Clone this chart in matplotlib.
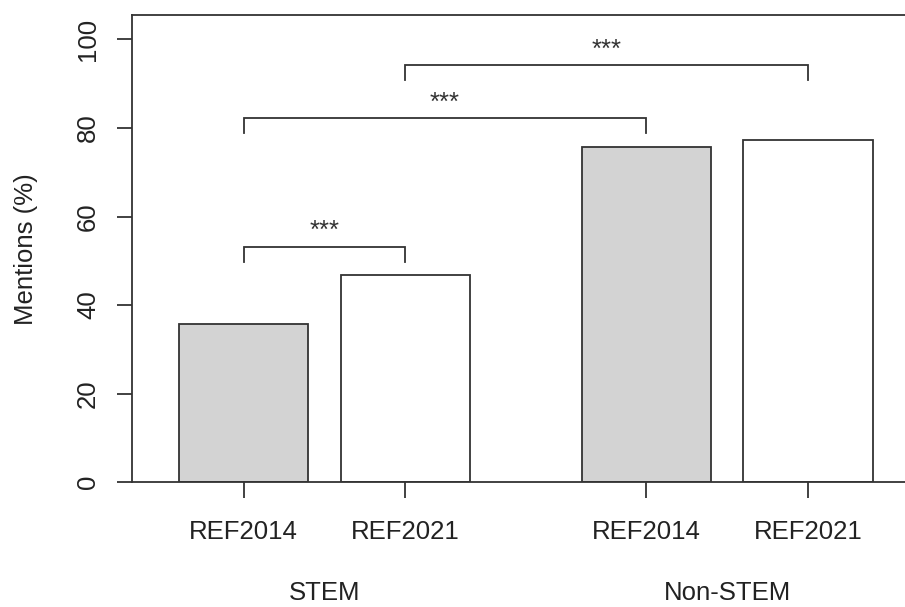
import matplotlib
matplotlib.use('Agg')
import matplotlib.pyplot as plt

plt.rcParams['font.family'] = ['Liberation Sans', 'DejaVu Sans']
plt.rcParams['font.size'] = 18.5

# data
groups = ['STEM', 'Non-STEM']
cycles = ['REF2014', 'REF2021', 'REF2014', 'REF2021']
mentions = [35.7, 46.8, 75.6, 77.3]
bar_colours = ['#d3d3d3', 'white', '#d3d3d3', 'white']

# significance brackets: (left bar, right bar, bracket height, label)
brackets = [
    (0, 1, 53.2, '***'),
    (0, 2, 82.2, '***'),
    (1, 3, 94.2, '***'),
]

pos = [0, 1.25, 3.11, 4.36]
W = 1.0
leg = 3.4      # bracket leg length (%)
lw = 1.3
line_col = '#333333'

fig = plt.figure(figsize=(9.05, 6.07), dpi=100)
ax = fig.add_axes([132 / 905, 1 - 482.3 / 607, 1 - 132 / 905, (482.3 - 15) / 607])

ax.bar(pos, mentions, width=W, color=bar_colours, edgecolor=line_col, linewidth=lw, zorder=2)

for i, j, h, lab in brackets:
    ax.plot([pos[i], pos[i], pos[j], pos[j]], [h - leg, h, h, h - leg],
            color=line_col, lw=lw, solid_joinstyle='miter', zorder=3)
    ax.text((pos[i] + pos[j]) / 2, h + 1.9, lab, ha='center', va='baseline',
            fontsize=18.5, color='#333333')

ax.set_xlim(-0.861, 5.108)
ax.set_ylim(0, 105.5)
ax.set_yticks(range(0, 101, 20))
ax.set_yticklabels([str(v) for v in range(0, 101, 20)], rotation=90, va='center')
ax.set_xticks(pos)
ax.set_xticklabels(cycles)

for s in ['left', 'top', 'bottom']:
    ax.spines[s].set_color(line_col)
    ax.spines[s].set_linewidth(lw)
ax.spines['right'].set_visible(False)

ax.tick_params(axis='y', length=11, width=lw, color=line_col, pad=12, labelcolor='#222222')
ax.tick_params(axis='x', length=11.5, width=lw, color=line_col, pad=16, labelcolor='#222222')

fig.text(26 / 905, 1 - 249 / 607, 'Mentions (%)', rotation=90, ha='center', va='center',
         color='#222222')

# group labels under the tick labels
for g, k in zip(groups, [0, 2]):
    ax.text((pos[k] + pos[k + 1]) / 2, -0.252, g, transform=ax.get_xaxis_transform(),
            ha='center', va='baseline', color='#222222')

fig.savefig('out.png', dpi=100)
